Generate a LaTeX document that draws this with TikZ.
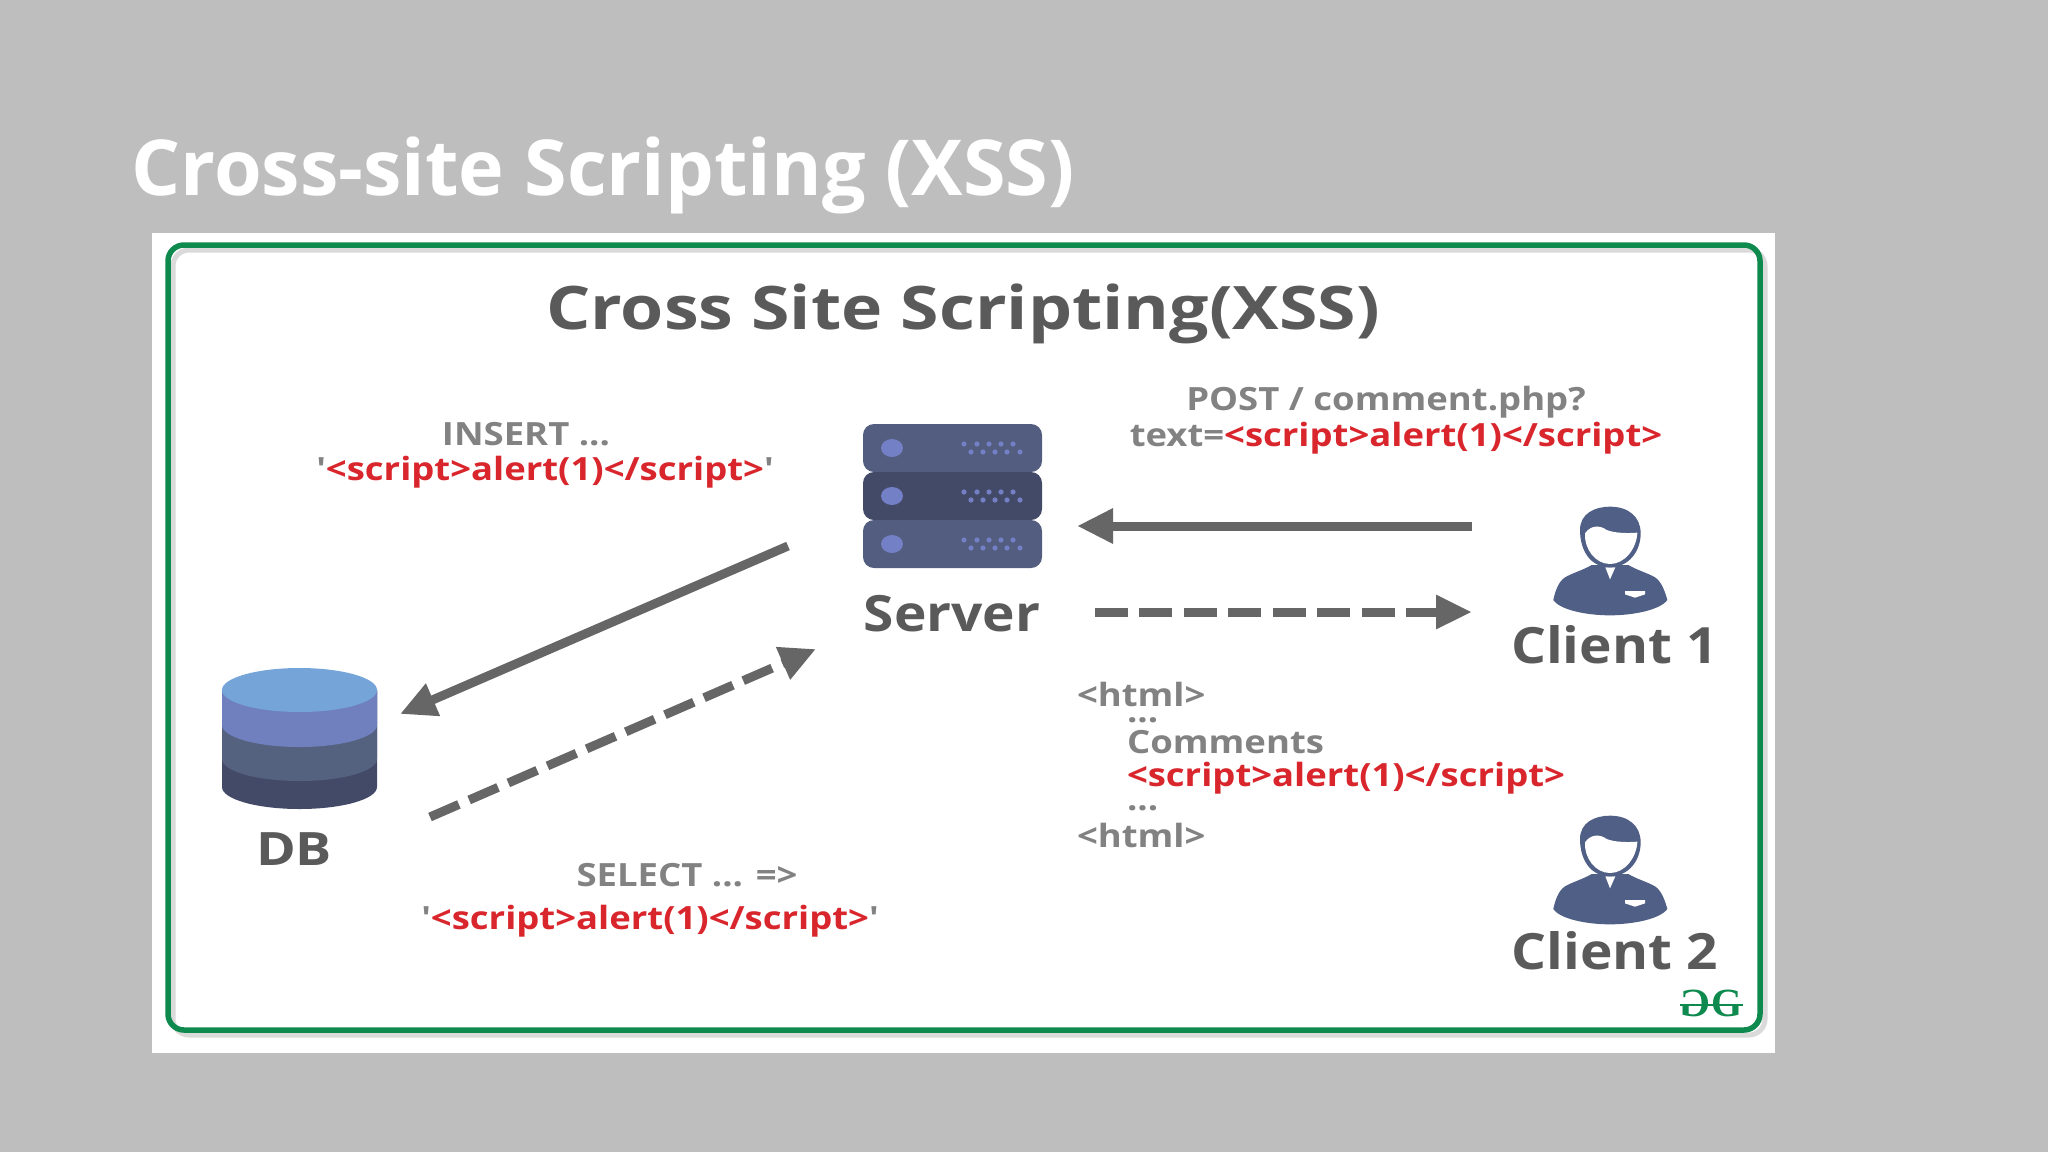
\documentclass[tikz,border=0pt]{standalone}
\usepackage{fontspec}
\usepackage{graphicx}
\setmainfont{Open Sans}
\usetikzlibrary{arrows.meta}
\definecolor{bgc}{HTML}{BEBEBE}
\definecolor{framec}{HTML}{0F8A4F}
\definecolor{shadowc}{HTML}{DADADA}
\definecolor{darktx}{HTML}{5A5A5A}
\definecolor{midtx}{HTML}{828282}
\definecolor{redtx}{HTML}{D9262C}
\definecolor{arrowc}{HTML}{666666}
\definecolor{srvA}{HTML}{535D80}
\definecolor{srvB}{HTML}{434A68}
\definecolor{srvdot}{HTML}{7380C6}
\definecolor{person}{HTML}{4F5F85}
\definecolor{dbA}{HTML}{75A5D8}
\definecolor{dbB}{HTML}{7080BF}
\definecolor{dbC}{HTML}{54627F}
\definecolor{dbD}{HTML}{434A68}
\newcommand{\fsz}[1]{\fontsize{#1}{#1}\selectfont\bfseries}
\newcommand{\scr}{<script>alert(1)</script>}
\newcommand{\qq}{\textquotesingle}
\newcommand{\sm}[1]{\scalebox{1.14}[1]{\fsz{32}#1}}
\newcommand{\lb}[1]{\scalebox{1.10}[1]{\fsz{50}#1}}
\newcommand{\personicon}[2]{%
\begin{scope}[shift={(#1,#2)},x=0.33333pt,y=-0.33333pt]
 \fill[person] (275,255) .. controls (250,270) and (215,280) .. (195,292) .. controls (175,305) and (165,335) .. (160,360) .. controls (180,390) and (260,406) .. (330,406) .. controls (400,406) and (480,390) .. (502,360) .. controls (495,335) and (485,305) .. (465,292) .. controls (445,280) and (410,270) .. (385,255) -- cycle;
 \fill[white] (316,262) -- (330,298) -- (346,262) -- cycle;
 \fill[person] (330,262) .. controls (270,262) and (240,210) .. (240,150) .. controls (240,100) and (285,80) .. (330,80) .. controls (385,80) and (422,110) .. (422,160) .. controls (422,215) and (385,262) .. (330,262) -- cycle;
 \fill[white] (255,160) .. controls (272,135) and (300,135) .. (320,150) .. controls (345,160) and (385,160) .. (412,158) .. controls (410,205) and (375,252) .. (330,252) .. controls (285,252) and (252,205) .. (255,160) -- cycle;
 \fill[white] (375,333) -- (435,333) -- (435,343) -- (405,353) -- (375,343) -- cycle;
\end{scope}}
\newcommand{\srvunit}[3]{%
 \fill[#3,rounded corners=11pt] (863,#1) rectangle (1042,#2);
 \pgfmathsetmacro{\cy}{(#1+#2)/2}
 \fill[srvdot] (892,\cy) ellipse [x radius=11, y radius=9];
 \foreach \dx in {964,977,989,1001,1013} \fill[srvdot] (\dx,\cy-4) circle [radius=2.6];
 \foreach \dx in {971,983,995,1007,1020} \fill[srvdot] (\dx,\cy+4) circle [radius=2.6];
}
\tikzset{
 txt/.style={inner sep=0pt,outer sep=0pt,anchor=base},
 txtl/.style={inner sep=0pt,outer sep=0pt,anchor=base west},
 solidarrow/.style={draw=arrowc,line width=9pt,-{Triangle[length=36pt,width=33pt]}},
 dasharrow/.style={draw=arrowc,line width=9pt,dash pattern=on 33pt off 11.5pt,-{Triangle[length=36pt,width=32pt]}},
 dashdiag/.style={draw=arrowc,line width=9pt,dash pattern=on 31.5pt off 11.2pt,-{Triangle[length=36pt,width=33pt]}},
}
\begin{document}
\begin{tikzpicture}[x=1pt,y=-1pt]
\useasboundingbox (0,0) rectangle (2048,1152);
\fill[bgc] (0,0) rectangle (2048,1152);
\node[txtl,text=white] (maintitle) at (131.5,195) {\fsz{77.2}Cross-site Scripting (XSS)};
\fill[white] (152,233) rectangle (1775,1053);
\draw[shadowc,line width=5pt,rounded corners=16pt] (173,250) rectangle (1765,1035);
\draw[framec,line width=5.5pt,rounded corners=16pt] (168,245) rectangle (1760,1030);
\node[txt,text=darktx] (title) at (963,329) {\scalebox{1.163}[1]{\fsz{60}Cross Site Scripting(XSS)}};
% server
\srvunit{424}{472}{srvA}
\srvunit{472}{520}{srvB}
\srvunit{520}{568}{srvA}
\node[txt,text=darktx] (server) at (952,631) {\lb{Server}};
% clients
\personicon{1500}{480}
\personicon{1500}{789}
\node[txt,text=darktx] (c1) at (1614.5,663) {\lb{Client 1}};
\node[txt,text=darktx] (c2) at (1615,969.5) {\lb{Client 2}};
% db
\fill[dbD] (222,690) -- (222,787) arc [start angle=180,end angle=0,x radius=77.5,y radius=22] -- (377,690) -- cycle;
\fill[dbC] (222,690) -- (222,759) arc [start angle=180,end angle=0,x radius=77.5,y radius=22] -- (377,690) -- cycle;
\fill[dbB] (222,690) -- (222,725) arc [start angle=180,end angle=0,x radius=77.5,y radius=22] -- (377,690) -- cycle;
\fill[dbA] (299.5,690) ellipse [x radius=77.5,y radius=22];
\node[txt,text=darktx] (db) at (294,865) {\scalebox{1.17}[1]{\fsz{46}DB}};
% connectors
\coordinate (p1s) at (1472,526); \coordinate (p1e) at (1077,526);
\coordinate (p2s) at (1094.7,612); \coordinate (p2e) at (1472,612);
\coordinate (p3s) at (788,546);  \coordinate (p3e) at (400,714);
\coordinate (p4s) at (430,817);  \coordinate (p4e) at (816,649);
\draw[solidarrow] (p1s) -- (p1e);
\draw[dasharrow] (p2s) -- (p2e);
\draw[solidarrow] (p3s) -- (p3e);
\draw[dashdiag] (p4s) -- (p4e);
% labels
\node[txt,text=midtx] (ins) at (526,445) {\sm{INSERT ...}};
\node[txt,text=redtx] (insr) at (545,480) {\sm{\textcolor{midtx}{\qq}\scr\textcolor{midtx}{\qq}}};
\node[txt,text=midtx] (post) at (1386,410) {\sm{POST / comment.php?}};
\node[txt,text=midtx] (postr) at (1396,446) {\sm{text=\textcolor{redtx}{\scr}}};
\node[txtl,text=midtx] (h1) at (1077,706) {\sm{<html>}};
\node[txtl,text=midtx] (d1) at (1127,722) {\sm{...}};
\node[txtl,text=midtx] (com) at (1127,753) {\sm{Comments}};
\node[txtl,text=redtx] (comr) at (1127,786) {\sm{\scr}};
\node[txtl,text=midtx] (d2) at (1127,810) {\sm{...}};
\node[txtl,text=midtx] (h2) at (1077,847) {\sm{<html>}};
\node[txt,text=midtx] (sel) at (687,886) {\sm{SELECT ... =>}};
\node[txt,text=redtx] (selr) at (650,929) {\sm{\textcolor{midtx}{\qq}\scr\textcolor{midtx}{\qq}}};
% logo
\node[inner sep=0pt,text=framec] (gl) at (1695,1003) {\fontspec{Liberation Serif}[Scale=1]\fontsize{40}{40}\selectfont\bfseries\reflectbox{G}};
\node[inner sep=0pt,text=framec] (gr) at (1727,1003) {\fontspec{Liberation Serif}[Scale=1]\fontsize{40}{40}\selectfont\bfseries G};
\coordinate (ll) at (1680,1005); \coordinate (lr) at (1743,1005);
\draw[framec,line width=1.5pt] (ll) -- (lr);
\end{tikzpicture}
\end{document}
